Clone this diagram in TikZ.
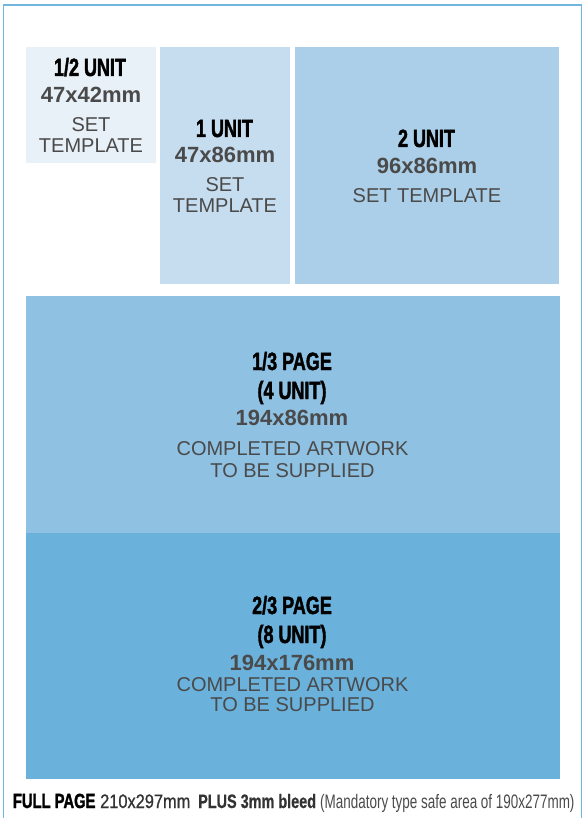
\documentclass[tikz,border=0pt]{standalone}
\usepackage{fontspec}
\setmainfont{Liberation Sans}
\newfontfamily\condA[FakeStretch=0.72,FakeBold=1.6]{Liberation Sans}
\newfontfamily\condC[FakeStretch=0.84,FakeBold=0.8]{Liberation Sans}
\newfontfamily\condD[FakeStretch=0.74,FakeBold=0.6]{Liberation Sans}
\newfontfamily\condE[FakeStretch=0.69]{Liberation Sans}
\definecolor{cHalf}{HTML}{E8F0F8}
\definecolor{cOne}{HTML}{C6DCEF}
\definecolor{cTwo}{HTML}{ABCFE8}
\definecolor{cThird}{HTML}{8FC1E3}
\definecolor{cTwoThirds}{HTML}{6AB1DC}
\definecolor{frameblue}{HTML}{72B6E0}
\definecolor{txtgray}{HTML}{4A4A4A}
\definecolor{darkgray}{HTML}{333333}
\tikzset{
  box/.style={draw=none, inner sep=0pt, outer sep=0pt},
  ttl/.style={inner sep=0pt, anchor=base, text=black, font={\condA\bfseries\fontsize{25}{30}\selectfont}},
  dimtxt/.style={inner sep=0pt, anchor=base, text=txtgray, font={\bfseries\fontsize{22}{26}\selectfont}},
  bodytxt/.style={inner sep=0pt, anchor=base, text=txtgray, font={\fontsize{20}{24}\selectfont}},
  foot/.style={inner sep=0pt, anchor=base west},
}
\begin{document}
\begin{tikzpicture}[x=1pt,y=-1pt]
\useasboundingbox (0,0) rectangle (587,818);
% outer frame
\draw[frameblue, line width=1.4pt] (3.5,818) -- (3.5,5) -- (581.5,5) -- (581.5,818);
% boxes
\node[box, fill=cHalf, minimum width=130pt, minimum height=116pt] (half) at (91,105) {};
\node[box, fill=cOne, minimum width=130pt, minimum height=237pt] (one) at (225,165.5) {};
\node[box, fill=cTwo, minimum width=264pt, minimum height=237pt] (two) at (427,165.5) {};
\node[box, fill=cThird, minimum width=534pt, minimum height=237pt] (third) at (293,414.5) {};
\node[box, fill=cTwoThirds, minimum width=534pt, minimum height=246pt] (twothirds) at (293,656) {};
% half unit
\node[ttl] (halfT) at (90,76) {1/2 UNIT};
\node[dimtxt] (halfD) at (91,103) {47x42mm};
\node[bodytxt] (halfS1) at (91,132) {SET};
\node[bodytxt] (halfS2) at (91,153) {TEMPLATE};
% one unit
\node[ttl] (oneT) at (224.5,137) {1 UNIT};
\node[dimtxt] (oneD) at (225,163) {47x86mm};
\node[bodytxt] (oneS1) at (225,192) {SET};
\node[bodytxt] (oneS2) at (225,212) {TEMPLATE};
% two unit
\node[ttl] (twoT) at (426.5,147) {2 UNIT};
\node[dimtxt] (twoD) at (427,174) {96x86mm};
\node[bodytxt] (twoS) at (427,203) {SET TEMPLATE};
% third page
\node[ttl] (thirdT1) at (292,370) {1/3 PAGE};
\node[ttl] (thirdT2) at (292,399) {(4 UNIT)};
\node[dimtxt] (thirdD) at (292,425) {194x86mm};
\node[bodytxt] (thirdS1) at (292.5,455) {COMPLETED ARTWORK};
\node[bodytxt] (thirdS2) at (292.5,477) {TO BE SUPPLIED};
% two-thirds page
\node[ttl] (ttT1) at (292,614) {2/3 PAGE};
\node[ttl] (ttT2) at (292,643) {(8 UNIT)};
\node[dimtxt] (ttD) at (292,670) {194x176mm};
\node[bodytxt] (ttS1) at (292.5,691) {COMPLETED ARTWORK};
\node[bodytxt] (ttS2) at (292.5,711) {TO BE SUPPLIED};
% footer
\node[foot, text=black, font={\condA\bfseries\fontsize{20.5}{22}\selectfont}] (fpA) at (12.7,808) {FULL PAGE};
\node[foot, text=darkgray, font={\condC\fontsize{19.5}{22}\selectfont}] (fpB) at (100,808) {210x297mm};
\node[foot, text=darkgray, font={\condD\bfseries\fontsize{19.5}{22}\selectfont}] (fpC) at (198,808) {PLUS 3mm bleed};
\node[foot, text=txtgray, font={\condE\fontsize{19.5}{22}\selectfont}] (fpD) at (320,808) {(Mandatory type safe area of 190x277mm)};
\end{tikzpicture}
\end{document}
